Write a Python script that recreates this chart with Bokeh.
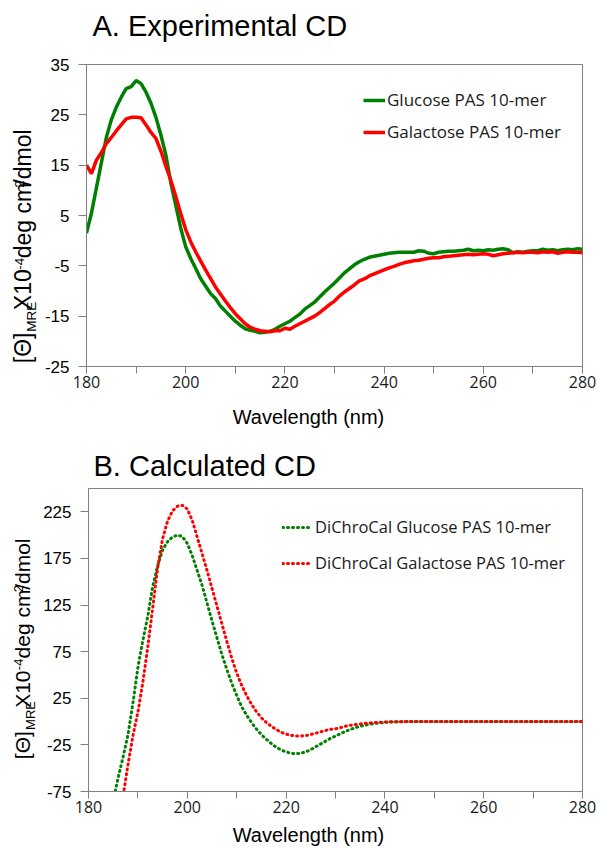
from math import pi
from bokeh.plotting import figure
from bokeh.models import (Range1d, SingleIntervalTicker, FixedTicker, Label, Legend,
                          LegendItem, PrintfTickFormatter)
from bokeh.layouts import column, row
from bokeh.embed import file_html
from bokeh.resources import INLINE

# ---------------- data ----------------
wl_exp = list(range(180, 281))
glucose_exp = [1.5, 5.5, 10.5, 15.5, 20.5, 24, 26.5, 28.5, 30.2, 30.6,
               31.8, 31.2, 29.5, 27.3, 24.5, 21, 17, 11.5, 7, 2.5,
               -1.2, -3.5, -5.5, -7.5, -9, -10.5, -11.5, -13, -14, -15,
               -16, -16.8, -17.5, -17.8, -18, -18.3, -18.2, -18, -17.6, -17,
               -16.5, -16, -15.3, -14.6, -13.6, -12.9, -12.2, -11.2, -10.2, -9.3,
               -8.4, -7.4, -6.4, -5.6, -4.8, -4.2, -3.7, -3.3, -3.1, -2.9,
               -2.7, -2.5, -2.4, -2.3, -2.3, -2.3, -2.3, -2.0, -2.1, -2.5,
               -2.6, -2.3, -2.2, -2.1, -2.1, -2.0, -1.9, -1.7, -2.0, -1.9,
               -2.0, -1.8, -1.9, -1.7, -1.6, -1.8, -2.4, -2.2, -2.3, -2.1,
               -2.0, -2.0, -1.7, -1.9, -1.8, -2.0, -1.8, -1.7, -1.8, -1.6,
               -1.7]
galactose_exp = [15, 13.3, 16, 17.5, 19.3, 20.5, 21.8, 23, 24.2, 24.5,
                 24.5, 24.4, 23, 21.5, 20.3, 17.8, 14.8, 12, 8.8, 5.4,
                 2.2, -0.2, -2.2, -4, -5.8, -7.5, -9.2, -10.6, -12, -13.3,
                 -14.5, -15.5, -16.5, -17.2, -17.6, -17.9, -18, -18.1, -17.9, -17.9,
                 -17.4, -17.6, -17, -16.5, -16, -15.5, -15, -14.3, -13.5, -12.7,
                 -12, -11, -10.2, -9.5, -8.8, -8.0, -7.6, -7.0, -6.6, -6.2,
                 -5.8, -5.4, -5.1, -4.7, -4.4, -4.2, -4.0, -3.9, -3.7, -3.5,
                 -3.4, -3.4, -3.2, -3.1, -3.0, -2.9, -2.8, -2.7, -2.8, -2.7,
                 -2.6, -2.7, -3.0, -2.8, -2.6, -2.5, -2.4, -2.3, -2.4, -2.3,
                 -2.3, -2.4, -2.2, -2.3, -2.2, -2.5, -2.3, -2.2, -2.3, -2.3,
                 -2.4]

wl_calc_glc = list(range(185, 281))
glucose_calc = [-85, -60, -38, -14, 20, 58, 87, 113, 145, 167,
                184, 193, 198, 200, 198.5, 191, 178, 162, 146, 127,
                108, 90, 72, 56, 41, 28, 16, 7, -1, -8,
                -14, -19, -23.5, -27.5, -30.5, -32.5, -34, -34.5, -34, -32.5,
                -30, -27, -24, -21, -18, -15.5, -13, -10.5, -8.5, -6.5,
                -5, -3.8, -2.8, -2, -1.4, -0.9, -0.6, -0.4, -0.2, -0.1,
                0, 0, 0, 0, 0, 0, 0, 0, 0, 0,
                0, 0, 0, 0, 0, 0, 0, 0, 0, 0,
                0, 0, 0, 0, 0, 0, 0, 0, 0, 0,
                0, 0, 0, 0, 0, 0]
wl_calc_gal = list(range(186, 281))
galactose_calc = [-110, -80, -46, -15, 10, 42, 80, 122, 165, 196,
                  215, 226, 231, 232, 228, 216, 198, 180, 162, 143,
                  124, 105, 86, 68, 52, 39, 28, 18.5, 10.5, 4,
                  -1, -5, -8.5, -11.5, -13.5, -14.8, -15.5, -15.5, -15, -13.8,
                  -12.5, -11, -9.5, -8.3, -7.8, -6.6, -5, -4, -3.2, -2.5,
                  -1.9, -1.4, -1, -0.7, -0.5, -0.3, -0.2, -0.1, 0, 0,
                  0, 0, 0, 0, 0, 0, 0, 0, 0, 0,
                  0, 0, 0, 0, 0, 0, 0, 0, 0, 0,
                  0, 0, 0, 0, 0, 0, 0, 0, 0, 0,
                  0, 0, 0, 0, 0]

yticks_a = [-25, -15, -5, 5, 15, 25, 35]
yticks_b = [-75, -25, 25, 75, 125, 175, 225]

title_a = "A. Experimental CD"
title_b = "B. Calculated CD"
xlabel = "Wavelength (nm)"
leg_a = ["Glucose PAS 10-mer", "Galactose PAS 10-mer"]
leg_b = ["DiChroCal Glucose PAS 10-mer", "DiChroCal Galactose PAS 10-mer"]

GREEN = "#008000"
RED = "#ff0000"
AXC = "#808080"
SANS = "Liberation Sans"
TICKF = "Open Sans"
W = 598
LABW = 40
MAINW = W - LABW
ASC, DESC = 0.905, 0.212   # Liberation Sans ascent / descent (em)
MIDDLE = (ASC - DESC) / 2  # baseline-to-box-centre distance (em)
SHIFT_K = 0.55             # along-text correction of rotated labels (em)

ARIAL = {'[': 278, 'Θ': 778, ']': 278, 'M': 833, 'R': 722, 'E': 667, 'X': 667,
         '1': 556, '0': 556, '-': 333, '4': 556, ' ': 278, 'd': 556, 'e': 556,
         'g': 556, 'c': 500, 'm': 833, '2': 556, '/': 278, 'o': 556, 'l': 222}
ypieces = [("[Θ]", "main"), ("MRE", "sub"), ("X10", "main"), ("-4", "sup"),
           (" ", "gap"), ("deg cm", "main"), ("2", "sup"), ("/dmol", "main")]


def blank(width, height):
    f = figure(width=width, height=height, x_range=Range1d(0, width), y_range=Range1d(0, height),
               output_backend="svg", toolbar_location=None, title=None, min_border=0,
               x_axis_location=None, y_axis_location=None)
    f.grid.visible = False
    f.outline_line_color = None
    f.background_fill_color = "white"
    f.border_fill_color = "white"
    return f


def htext(f, strip_h, x, baseline_from_top, s, size, align="left"):
    y = strip_h - baseline_from_top - DESC * size
    f.add_layout(Label(x=x, y=y, text=s, text_font=SANS, text_font_size=f"{size}px",
                       text_align=align, text_baseline="bottom", text_color="black"))


def style(p, yticks):
    p.grid.visible = False
    p.outline_line_color = AXC
    p.outline_line_width = 1
    p.background_fill_color = "white"
    p.border_fill_color = "white"
    for ax in (p.xaxis[0], p.yaxis[0]):
        ax.axis_line_color = AXC
        ax.major_tick_line_color = AXC
        ax.major_tick_in = 0
        ax.minor_tick_in = 0
    xa = p.xaxis[0]
    xa.ticker = SingleIntervalTicker(interval=20, num_minor_ticks=2)
    xa.major_tick_out = 7
    xa.minor_tick_out = 7
    xa.minor_tick_line_color = AXC
    xa.major_label_text_font = TICKF
    xa.major_label_text_font_size = "16px"
    xa.major_label_text_color = "#1a1a1a"
    xa.major_label_standoff = 2
    ya = p.yaxis[0]
    ya.ticker = FixedTicker(ticks=yticks)
    ya.formatter = PrintfTickFormatter(format="%d")
    ya.major_tick_out = 8
    ya.minor_tick_line_color = None
    ya.major_label_text_font = SANS
    ya.major_label_text_font_size = "17px"
    ya.major_label_text_color = "black"
    ya.major_label_standoff = 9


def ylabel_fig(height, y0, F, f, base_main, base_sub, base_sup):
    lf = blank(LABW, height)
    y = y0
    for s, kind in ypieces:
        size = F if kind in ("main", "gap") else f
        w = sum(ARIAL[c] for c in s) * size / 1000.0
        if kind != "gap":
            base = {"main": base_main, "sub": base_sub, "sup": base_sup}[kind]
            corr = SHIFT_K * size + SHIFT_K * F
            lf.add_layout(Label(x=base - MIDDLE * size, y=y - corr, text=s,
                                angle=pi / 2, text_font=SANS, text_font_size=f"{size}px",
                                text_align="left", text_baseline="alphabetic",
                                text_color="black"))
        y += w
    return lf


def make_legend(p, items, loc, gw, standoff, spacing, fsize):
    lg = Legend(items=items, location=loc, orientation="vertical")
    lg.border_line_color = None
    lg.background_fill_alpha = 0
    lg.padding = 0
    lg.margin = 0
    lg.glyph_width = gw
    lg.glyph_height = 22
    lg.label_height = 22
    lg.label_standoff = standoff
    lg.spacing = spacing
    lg.label_text_font = TICKF
    lg.label_text_font_size = fsize
    lg.label_text_color = "#1a1a1a"
    p.add_layout(lg)


# ---------------- top strip (title A) : page y 0 .. 52 ----------------
TOP_H = 52
top = blank(W, TOP_H)
htext(top, TOP_H, 92, 35, title_a, 29)

# ---------------- panel A : page y 52 .. 397 ----------------
ROWA_TOP, ROWA_H = 52, 345
pA = figure(width=MAINW, height=ROWA_H, x_range=Range1d(180, 280), y_range=Range1d(-25, 35),
            output_backend="svg", toolbar_location=None, title=None,
            min_border_left=46, min_border_right=16, min_border_top=12, min_border_bottom=31)
style(pA, yticks_a)
rg = pA.line(wl_exp, glucose_exp, line_color=GREEN, line_width=3.5)
rr = pA.line(wl_exp, galactose_exp, line_color=RED, line_width=3.5)
make_legend(pA, [LegendItem(label=leg_a[0], renderers=[rg]),
                 LegendItem(label=leg_a[1], renderers=[rr])], (277, 223), 22, 2, 9, "17px")
labA = ylabel_fig(ROWA_H, ROWA_TOP + ROWA_H - 368, 23, 13.5, 30, 36, 23.5)

# ---------------- middle strip (x label A, title B) : page y 397 .. 486 ----------------
MID_TOP, MID_H = 397, 89
mid = blank(W, MID_H)
htext(mid, MID_H, 308, 423 - MID_TOP, xlabel, 20, "center")
htext(mid, MID_H, 93, 475 - MID_TOP, title_b, 29)

# ---------------- panel B : page y 486 .. 822 ----------------
ROWB_TOP, ROWB_H = 486, 336
pB = figure(width=MAINW, height=ROWB_H, x_range=Range1d(180, 280), y_range=Range1d(-75, 250),
            output_backend="svg", toolbar_location=None, title=None,
            min_border_left=46, min_border_right=16, min_border_top=2, min_border_bottom=31)
style(pB, yticks_b)
dg = pB.line(wl_calc_glc, glucose_calc, line_color=GREEN, line_width=3,
             line_dash="1 4", line_cap="round")
dr = pB.line(wl_calc_gal, galactose_calc, line_color=RED, line_width=3,
             line_dash="1 4", line_cap="round")
make_legend(pB, [LegendItem(label=leg_b[0], renderers=[dg]),
                 LegendItem(label=leg_b[1], renderers=[dr])], (194, 217), 30, 3, 13, "16.5px")
labB = ylabel_fig(ROWB_H, ROWB_TOP + ROWB_H - 763, 21, 13, 29, 35, 22.5)

# ---------------- bottom strip (x label B) : page y 822 .. 846 ----------------
BOT_TOP, BOT_H = 822, 24
bot = blank(W, BOT_H)
htext(bot, BOT_H, 308, 841.5 - BOT_TOP, xlabel, 20, "center")

layout = column(top, row(labA, pA, spacing=0), mid, row(labB, pB, spacing=0), bot, spacing=0)
open("out.html", "w").write(file_html(layout, INLINE))
